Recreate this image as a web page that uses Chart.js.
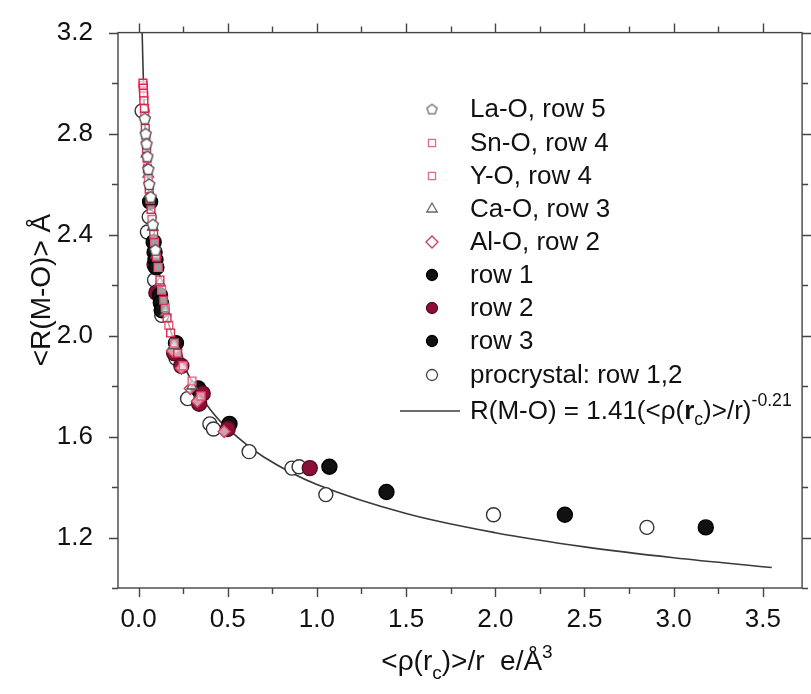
<!DOCTYPE html>
<html><head><meta charset="utf-8">
<script src="https://cdn.jsdelivr.net/npm/chart.js@4/dist/chart.umd.min.js"></script>
<style>html,body{margin:0;padding:0;background:#fff}</style>
</head><body>
<canvas id="c" width="811" height="694"></canvas>
<script>
// ---- data ----
const laO  = [[0.035,2.86],[0.04,2.80],[0.045,2.76],[0.05,2.71],[0.055,2.66],[0.06,2.60],[0.068,2.55],[0.08,2.44],[0.095,2.34]];
const snO  = [[0.025,3.00],[0.027,2.98],[0.028,2.96],[0.03,2.93],[0.033,2.90],[0.038,2.82],[0.045,2.74],[0.05,2.66],[0.06,2.58],[0.07,2.50],[0.085,2.40],[0.1,2.31],[0.12,2.22],[0.14,2.14],[0.16,2.07],[0.18,2.01],[0.22,1.93]];
const yO   = [[0.026,2.99],[0.03,2.95],[0.035,2.87],[0.042,2.78],[0.048,2.70],[0.055,2.62],[0.065,2.54],[0.075,2.46],[0.09,2.37],[0.11,2.27],[0.13,2.18],[0.15,2.11],[0.17,2.04],[0.2,1.97],[0.25,1.88],[0.3,1.82],[0.35,1.76]];
const caO  = [[0.045,2.72],[0.055,2.64],[0.065,2.56],[0.08,2.43],[0.1,2.32],[0.12,2.21],[0.15,2.09],[0.2,1.96],[0.3,1.80]];
const alO  = [[0.19,1.94],[0.24,1.87],[0.29,1.79],[0.33,1.74],[0.48,1.62]];
const row1 = [[0.065,2.53],[0.085,2.37],[0.09,2.33],[0.095,2.30],[0.1,2.27],[0.12,2.16],[0.125,2.13],[0.13,2.10]];
const row2 = [[0.09,2.28],[0.1,2.17],[0.2,1.93],[0.24,1.88],[0.36,1.77],[0.34,1.73],[0.5,1.63],[0.96,1.475]];
const row3 = [[0.21,1.97],[0.335,1.79],[0.51,1.65],[1.07,1.48],[1.39,1.38],[2.39,1.29],[3.18,1.24]];
const procrystal = [[0.02,2.89],[0.06,2.47],[0.05,2.41],[0.09,2.22],[0.13,2.08],[0.21,1.91],[0.275,1.75],[0.4,1.65],[0.42,1.63],[0.62,1.54],[0.86,1.475],[0.9,1.48],[1.05,1.37],[1.99,1.29],[2.85,1.24]];
const fitX = [0.02,0.03,0.04,0.05,0.07,0.1,0.15,0.2,0.3,0.4,0.5,0.7,1.0,1.5,2.0,2.5,3.0,3.55];
const fitY = [3.21,2.944,2.772,2.645,2.465,2.287,2.100,1.977,1.816,1.709,1.631,1.520,1.41,1.295,1.219,1.163,1.120,1.081];
const xTicks = [0,0.25,0.5,0.75,1.0,1.25,1.5,1.75,2.0,2.25,2.5,2.75,3.0,3.25,3.5];
const xTickLabels = ['0.0','','0.5','','1.0','','1.5','','2.0','','2.5','','3.0','','3.5'];
const yTicks = [1.0,1.2,1.4,1.6,1.8,2.0,2.2,2.4,2.6,2.8,3.0,3.2];
const yTickLabels = ['','1.2','','1.6','','2.0','','2.4','','2.8','','3.2'];
const legendLabels = ['La-O, row 5','Sn-O, row 4','Y-O, row 4','Ca-O, row 3','Al-O, row 2','row 1','row 2','row 3','procrystal: row 1,2'];

const FONT = "'Liberation Sans', Arial, sans-serif";
const pts = a => a.map(p => ({x:p[0], y:p[1]}));

function pentagon(size, color) {
  const c = document.createElement('canvas');
  c.width = size; c.height = size;
  const g = c.getContext('2d');
  g.strokeStyle = color; g.lineWidth = 1.3;
  const r = size/2 - 1.2, cx = size/2, cy = size/2 + 0.6;
  g.beginPath();
  for (let i = 0; i < 5; i++) {
    const a = -Math.PI/2 + i*2*Math.PI/5;
    const px = cx + r*Math.cos(a), py = cy + r*Math.sin(a);
    i ? g.lineTo(px, py) : g.moveTo(px, py);
  }
  g.closePath(); g.fillStyle = '#fff'; g.fill(); g.stroke();
  return c;
}
const pentBig = pentagon(14, '#4a4a4a');
const pentSmall = pentagon(13, '#6a6a6a');

const styles = [
  {pointStyle: pentBig, radius: 7, bg:'#fff', border:'#4a4a4a', lg:{style:pentSmall, r:6, bg:'#fff', bd:'#6a6a6a'}},
  {pointStyle: 'rect', radius: 5.5, bg:'rgba(255,255,255,0.6)', border:'#e0234f', lg:{style:'rect', r:5, bg:'#fff', bd:'#e06a8a'}},
  {pointStyle: 'rect', radius: 5.5, bg:'rgba(255,255,255,0.6)', border:'#ee5a80', lg:{style:'rect', r:5, bg:'#fff', bd:'#e06a8a'}},
  {pointStyle: 'triangle', radius: 6, bg:'rgba(255,255,255,0.6)', border:'#555', lg:{style:'triangle', r:6, bg:'#fff', bd:'#666'}},
  {pointStyle: 'rectRot', radius: 6, bg:'rgba(255,255,255,0.6)', border:'#d0405e', lg:{style:'rectRot', r:6, bg:'#fff', bd:'#c0405e'}},
  {pointStyle: 'circle', radius: 7.5, bg:'#111', border:'#000', lg:{style:'circle', r:5.5, bg:'#111', bd:'#000'}},
  {pointStyle: 'circle', radius: 7.5, bg:'#8c1036', border:'#5a0a22', lg:{style:'circle', r:5.5, bg:'#8c1036', bd:'#5a0a22'}},
  {pointStyle: 'circle', radius: 7.5, bg:'#111', border:'#000', lg:{style:'circle', r:5.5, bg:'#111', bd:'#000'}},
  {pointStyle: 'circle', radius: 7, bg:'#fff', border:'#333', lg:{style:'circle', r:5.5, bg:'#fff', bd:'#444'}}
];
const seriesData = [laO, snO, yO, caO, alO, row1, row2, row3, procrystal];

const datasets = [];
datasets.push({
  label: 'fit', type: 'scatter', showLine: true,
  data: fitX.map((x,i)=>({x, y: fitY[i]})),
  borderColor: '#3a3a3a', borderWidth: 1.6, pointRadius: 0, tension: 0.35, order: 10
});
seriesData.forEach((d,i) => {
  const s = styles[i];
  datasets.push({
    label: legendLabels[i], data: pts(d),
    pointStyle: s.pointStyle, pointRadius: s.radius,
    backgroundColor: s.bg, borderColor: s.border, borderWidth: 1.4,
    pointHoverRadius: s.radius
  });
});

function drawRich(ctx, parts, x, y, baseSize, align) {
  const widths = parts.map(p => {
    const sz = p[1] ? baseSize*0.68 : baseSize;
    ctx.font = (p[2]?'bold ':'') + sz + 'px ' + FONT;
    return ctx.measureText(p[0]).width;
  });
  const total = widths.reduce((a,b)=>a+b,0);
  let cx = align === 'center' ? x - total/2 : x;
  parts.forEach((p,i) => {
    const sz = p[1] ? baseSize*0.68 : baseSize;
    ctx.font = (p[2]?'bold ':'') + sz + 'px ' + FONT;
    let dy = 0;
    if (p[1] === 'sub') dy = baseSize*0.32;
    if (p[1] === 'sup') dy = -baseSize*0.42;
    ctx.fillText(p[0], cx, y + dy);
    cx += widths[i];
  });
}

const framePlugin = {
  id: 'frame',
  afterDatasetsDraw(chart) {
    const {ctx, chartArea:a, scales:{x, y}} = chart;
    ctx.save();
    ctx.strokeStyle = '#444'; ctx.lineWidth = 1.4;
    ctx.strokeRect(a.left, a.top, a.right - a.left, a.bottom - a.top);
    ctx.beginPath();
    xTicks.forEach((v,i) => {
      const px = Math.round(x.getPixelForValue(v)) + 0.5;
      const L = xTickLabels[i] ? 9 : 6;
      ctx.moveTo(px, a.bottom); ctx.lineTo(px, a.bottom + L);
      ctx.moveTo(px, a.top); ctx.lineTo(px, a.top - L);
    });
    yTicks.forEach((v,i) => {
      const py = Math.round(y.getPixelForValue(v)) + 0.5;
      const L = yTickLabels[i] ? 9 : 6;
      ctx.moveTo(a.left, py); ctx.lineTo(a.left - L, py);
      ctx.moveTo(a.right, py); ctx.lineTo(a.right + L, py);
    });
    ctx.stroke();

    ctx.fillStyle = '#111';
    ctx.textBaseline = 'alphabetic';
    drawRich(ctx, [['<ρ(r',0],['c','sub'],[')>/r  e/Å',0],['3','sup']], 467, 670, 28, 'center');
    ctx.save();
    ctx.translate(50, 290);
    ctx.rotate(-Math.PI/2);
    ctx.font = '28px ' + FONT;
    ctx.textAlign = 'center';
    ctx.fillText('<R(M-O)> Å', 0, 0);
    ctx.restore();

    const rowsY = [109,143,176,209,242,275,308,341,375];
    const mx = 432, tx = 470;
    rowsY.forEach((ry,i) => {
      const lg = styles[i].lg;
      ctx.fillStyle = lg.bg; ctx.strokeStyle = lg.bd; ctx.lineWidth = 1.3;
      Chart.helpers.drawPoint(ctx, {pointStyle: lg.style, radius: lg.r, rotation: 0, borderWidth: 1.3}, mx, ry);
      ctx.fillStyle = '#111';
      ctx.font = '26px ' + FONT;
      ctx.textBaseline = 'middle';
      ctx.fillText(legendLabels[i], tx, ry + 1);
    });
    const ly = 411;
    ctx.strokeStyle = '#3a3a3a'; ctx.lineWidth = 1.6;
    ctx.beginPath(); ctx.moveTo(400, ly); ctx.lineTo(460, ly); ctx.stroke();
    ctx.fillStyle = '#111';
    ctx.textBaseline = 'middle';
    drawRich(ctx, [['R(M-O) = 1.41(<ρ(',0],['r',0,true],['c','sub'],[')>/r)',0],['-0.21','sup']], tx, ly + 1, 26, 'left');
    ctx.restore();
  }
};

new Chart(document.getElementById('c'), {
  type: 'scatter',
  data: {datasets},
  options: {
    responsive: false, animation: false, devicePixelRatio: 1,
    layout: {padding: {left: 0, top: 27, right: 3, bottom: 0}},
    plugins: {legend: {display: false}, tooltip: {enabled: false}},
    scales: {
      x: {
        type: 'linear', min: -0.115, max: 3.72,
        afterBuildTicks: s => { s.ticks = xTicks.map(v => ({value: v})); },
        afterFit: s => { s.height = 106; },
        grid: {display: false}, border: {display: false},
        ticks: {
          autoSkip: false, maxRotation: 0, padding: 8, color: '#111',
          font: {family: FONT, size: 26},
          callback: (v, i) => xTickLabels[i]
        }
      },
      y: {
        type: 'linear', min: 1.0, max: 3.2,
        afterBuildTicks: s => { s.ticks = yTicks.map(v => ({value: v})); },
        afterFit: s => { s.width = 118; },
        grid: {display: false}, border: {display: false},
        ticks: {
          autoSkip: false, padding: 17, color: '#111',
          font: {family: FONT, size: 26},
          callback: (v, i) => yTickLabels[i]
        }
      }
    }
  },
  plugins: [framePlugin]
});
</script>
</body></html>
